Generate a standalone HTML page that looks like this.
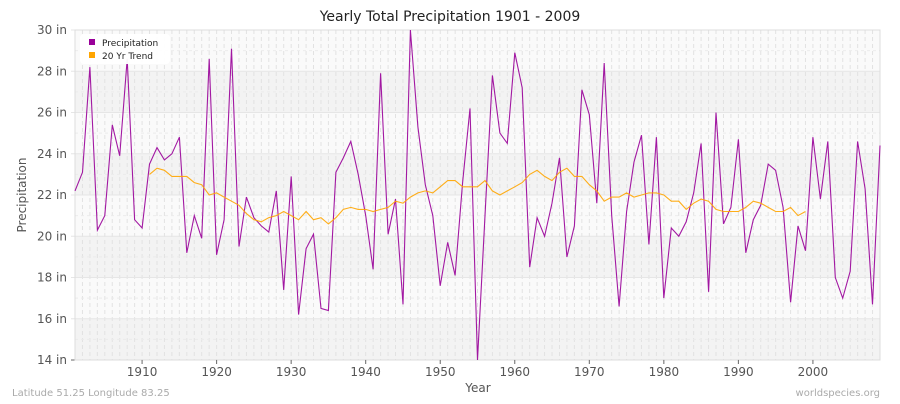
<!DOCTYPE html>
<html><head><meta charset="utf-8"><style>
body{margin:0;background:#fff;width:900px;height:400px;overflow:hidden;font-family:"DejaVu Sans","Liberation Sans",sans-serif}
svg text{font-family:"DejaVu Sans","Liberation Sans",sans-serif}
</style></head><body>
<svg id="chart" width="900" height="400">
<text x="450" y="21" text-anchor="middle" font-size="14" fill="#222">Yearly Total Precipitation 1901 - 2009</text>
<g id="bg"></g><g id="grid"></g><g id="axes"></g><g id="series"></g>
<text x="26" y="195" transform="rotate(-90 26 195)" text-anchor="middle" font-size="12" fill="#555">Precipitation</text>
<text x="478" y="392" text-anchor="middle" font-size="12" fill="#555">Year</text>
<text x="12" y="396" font-size="10" fill="#aaa">Latitude 51.25 Longitude 83.25</text>
<text x="880" y="396" text-anchor="end" font-size="10" fill="#aaa">worldspecies.org</text>
<g>
<rect x="80" y="34" width="90" height="30" rx="4" fill="#fff" opacity="0.95"/>
<rect x="89" y="39" width="6" height="6" fill="#990099"/>
<text x="102" y="46" font-size="9" fill="#222">Precipitation</text>
<rect x="89" y="52" width="6" height="6" fill="#ffa500"/>
<text x="102" y="59" font-size="9" fill="#222">20 Yr Trend</text>
</g>
</svg>
<script>
const precipStartYear = 1901;
const precipValues = [22.2,23.1,28.2,20.3,21.0,25.4,23.9,28.6,20.8,20.4,23.5,24.3,23.7,24.0,24.8,19.2,21.0,19.9,28.6,19.1,20.8,29.1,19.5,21.9,20.9,20.5,20.2,22.2,17.4,22.9,16.2,19.4,20.1,16.5,16.4,23.1,23.8,24.6,23.0,21.0,18.4,27.9,20.1,21.8,16.7,30.0,25.3,22.5,21.0,17.6,19.7,18.1,22.6,26.2,14.0,21.0,27.8,25.0,24.5,28.9,27.2,18.5,20.9,20.0,21.6,23.8,19.0,20.5,27.1,25.9,21.6,28.4,21.0,16.6,21.2,23.6,24.9,19.6,24.8,17.0,20.4,20.0,20.7,22.1,24.5,17.3,26.0,20.6,21.4,24.7,19.2,20.8,21.5,23.5,23.2,21.4,16.8,20.5,19.3,24.8,21.8,24.6,18.0,17.0,18.3,24.6,22.3,16.7,24.4];
const trendStartYear = 1911;
const trendValues = [23.0,23.3,23.2,22.9,22.9,22.9,22.6,22.5,22.0,22.1,21.9,21.7,21.5,21.1,20.8,20.7,20.9,21.0,21.2,21.0,20.8,21.2,20.8,20.9,20.6,20.9,21.3,21.4,21.3,21.3,21.2,21.3,21.4,21.7,21.6,21.9,22.1,22.2,22.1,22.4,22.7,22.7,22.4,22.4,22.4,22.7,22.2,22.0,22.2,22.4,22.6,23.0,23.2,22.9,22.7,23.1,23.3,22.9,22.9,22.5,22.2,21.7,21.9,21.9,22.1,21.9,22.0,22.1,22.1,22.0,21.7,21.7,21.3,21.6,21.8,21.7,21.3,21.2,21.2,21.2,21.4,21.7,21.6,21.4,21.2,21.2,21.4,21.0,21.2];
const yTicks = [14,16,18,20,22,24,26,28,30];
const xTicks = [1910,1920,1930,1940,1950,1960,1970,1980,1990,2000];

const L=75,R=880,T=30,B=360,Y0=1901,Y1=2009,V0=14,V1=30;
const xs=y=>L+(y-Y0)*(R-L)/(Y1-Y0);
const ys=v=>B-(v-V0)*(B-T)/(V1-V0);
const NS="http://www.w3.org/2000/svg";
function mk(tag,parent,attrs){const e=document.createElementNS(NS,tag);for(const k in attrs)e.setAttribute(k,attrs[k]);parent.appendChild(e);return e;}
const bg=document.getElementById('bg'),grid=document.getElementById('grid'),axes=document.getElementById('axes'),series=document.getElementById('series');
for(let i=0;i<yTicks.length-1;i++){
  const r=mk('rect',bg,{x:L,y:ys(yTicks[i+1]),width:R-L,height:ys(yTicks[i])-ys(yTicks[i+1]),fill:(i%2===0)?'#f3f3f3':'#fafafa'});
  
  
}
for(let y=Y0;y<=Y1;y++){
  const l=mk('line',grid,{x1:xs(y),x2:xs(y),y1:T,y2:B,stroke:'#e2e2e2','stroke-dasharray':'4,3','stroke-width':1});
  
  
}
for(let v=V0+1;v<V1;v+=2){
  const l=mk('line',grid,{x1:L,x2:R,y1:ys(v),y2:ys(v),stroke:'#ececec','stroke-dasharray':'3,3'});
  
  
}
yTicks.forEach(v=>{
  const l=mk('line',grid,{x1:L-4,x2:R,y1:ys(v),y2:ys(v),stroke:(v===V0?'#666':'#e6e6e6'),'stroke-width':1});
  
  
  const t=mk('text',axes,{x:L-8,y:ys(v)+4,'text-anchor':'end','font-size':12,fill:'#555'});
  t.textContent=v+' in';
  
  
});
const ax=mk('line',axes,{x1:L,x2:L,y1:T,y2:B,stroke:'#666'});


const bx=mk('line',axes,{x1:L,x2:R,y1:B,y2:B,stroke:'#666'});


const fr=mk('rect',axes,{x:L,y:T,width:R-L,height:B-T,fill:'none',stroke:'#ddd'});


xTicks.forEach(y=>{
  const l=mk('line',axes,{x1:xs(y),x2:xs(y),y1:B,y2:B+4,stroke:'#666'});
  
  
  const t=mk('text',axes,{x:xs(y),y:B+16,'text-anchor':'middle','font-size':12,fill:'#555'});
  t.textContent=y;
  
  
});
const pp=precipValues.map((v,i)=>xs(precipStartYear+i).toFixed(1)+','+ys(v).toFixed(1)).join(' ');
const pl=mk('polyline',series,{points:pp,fill:'none',stroke:'#990099','stroke-width':1.1,'stroke-opacity':0.9});


const tp=trendValues.map((v,i)=>xs(trendStartYear+i).toFixed(1)+','+ys(v).toFixed(1)).join(' ');
const tl=mk('polyline',series,{points:tp,fill:'none',stroke:'#ffa500','stroke-width':1.1,'stroke-opacity':0.9});


</script>
</body></html>
